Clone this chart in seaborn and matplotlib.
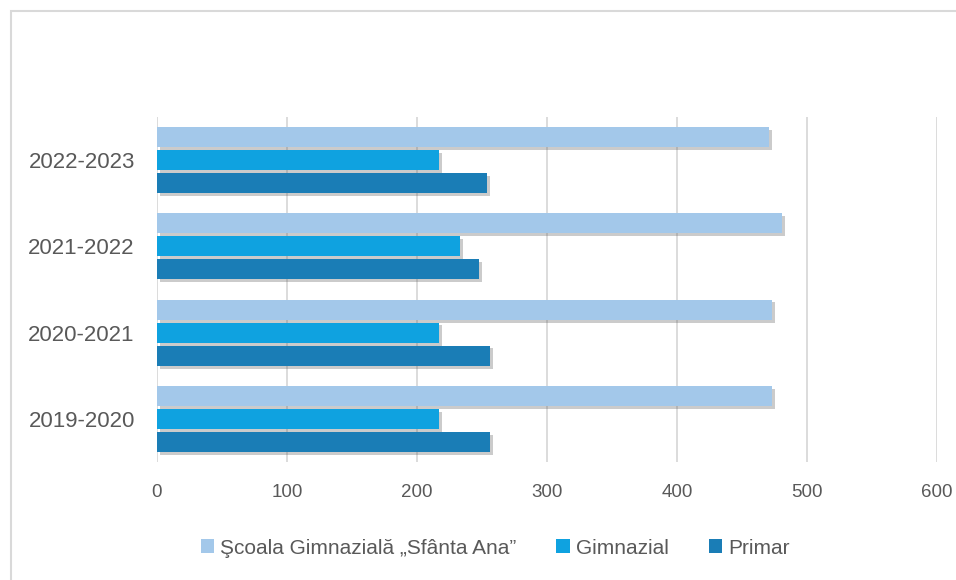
import pandas as pd
import numpy as np
import matplotlib.pyplot as plt
import matplotlib.patheffects as pe
from matplotlib.patches import Rectangle
import seaborn as sns

# data
ani = ["2022-2023", "2021-2022", "2020-2021", "2019-2020"]
total_scoala = [471, 481, 473, 473]
gimnazial = [217, 233, 217, 217]
primar = [254, 248, 256, 256]
serii = ["Şcoala Gimnazială „Sfânta Ana”", "Gimnazial", "Primar"]
culori = ["#A3C8EA", "#0FA2E0", "#1A7DB6"]

df = pd.DataFrame({
    "an": ani * 3,
    "valoare": total_scoala + gimnazial + primar,
    "serie": [serii[0]] * 4 + [serii[1]] * 4 + [serii[2]] * 4,
})

sns.set_theme(style="white")
plt.rcParams['font.family'] = ['Liberation Sans', 'DejaVu Sans']

fig = plt.figure(figsize=(9.56, 5.8), dpi=100)
ax = fig.add_axes([157 / 956, 118 / 580, 780 / 956, 345 / 580])

sns.barplot(data=df, x="valoare", y="an", hue="serie", order=ani,
            hue_order=serii, palette=culori, saturation=1, orient="h",
            width=0.8, gap=0.12, ax=ax, zorder=3)

# soft drop shadow on the bars
for bar in ax.patches:
    bar.set_path_effects([pe.SimplePatchShadow(offset=(2, -2), alpha=0.3, shadow_rgbFace="#555555"),
                          pe.Normal()])
    bar.set_linewidth(0)

ax.set_xlim(0, 600)
ax.set_xticks(range(0, 601, 100))
ax.grid(axis="x", color="#D9D9D9", linewidth=1.3, zorder=0)
ax.grid(axis="y", visible=False)
for s in ax.spines.values():
    s.set_visible(False)
ax.set_xlabel("")
ax.set_ylabel("")
ax.tick_params(axis="x", labelsize=13.5, colors="#595959", pad=16, length=0)
ax.tick_params(axis="y", labelsize=16, colors="#595959", pad=16, length=0)

leg = ax.legend(loc="center", bbox_to_anchor=(0.518, 0.055), bbox_transform=fig.transFigure,
                ncol=3, frameon=False, fontsize=15, handlelength=0.65, handleheight=0.65,
                handletextpad=0.3, columnspacing=1.9, labelcolor="#595959")
for h in leg.legend_handles:
    h.set_path_effects([])

# chart border
fig.patches.append(Rectangle((11 / 956, -0.05), 1.1, 1 - 11 / 580 + 0.05,
                             transform=fig.transFigure, fill=False,
                             edgecolor="#D9D9D9", linewidth=1.5))

plt.savefig("out.png", dpi=100)
